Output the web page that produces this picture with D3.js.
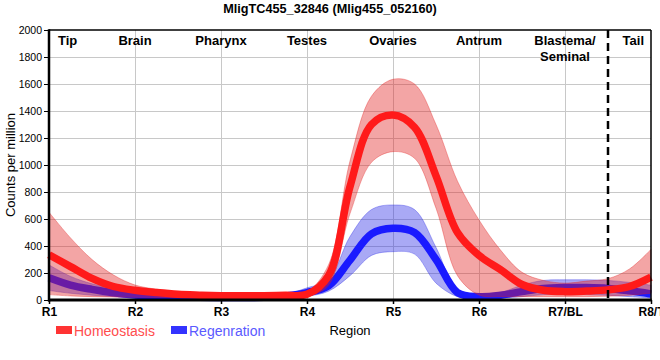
<!DOCTYPE html>
<html>
<head>
<meta charset="utf-8">
<script src="https://cdn.jsdelivr.net/npm/d3@7"></script>
<style>
  html, body { margin: 0; padding: 0; background: #fff; }
  svg { display: block; font-family: "Liberation Sans", Arial, sans-serif; }
</style>
</head>
<body>
<svg id="chart" width="660" height="360"></svg>
<script>
// ---------- data ----------
const title = "MligTC455_32846 (Mlig455_052160)";
const categories = ["R1", "R2", "R3", "R4", "R5", "R6", "R7/BL", "R8/T"];
const regionNames = ["Tip", "Brain", "Pharynx", "Testes", "Ovaries", "Antrum", "Blastema/|Seminal", "Tail"];
const yTicks = [0, 200, 400, 600, 800, 1000, 1200, 1400, 1600, 1800, 2000];
// sample positions along the region axis (1 = R1 ... 8 = R8/T)
const positions = [1, 1.25, 1.5, 1.75, 2, 2.25, 2.5, 2.75, 3, 3.25, 3.5, 3.75, 4, 4.25, 4.5, 4.75,
                   5, 5.25, 5.5, 5.75, 6, 6.25, 6.5, 6.75, 7, 7.25, 7.5, 7.75, 8];
const homeoMean = [335, 247, 160, 100, 72, 55, 42, 36, 32, 31, 32, 35, 42, 180, 840, 1300,
                   1370, 1280, 920, 500, 330, 225, 115, 72, 62, 66, 75, 100, 170];
const homeoHi   = [650, 460, 300, 185, 111, 80, 62, 52, 46, 45, 46, 50, 62, 260, 1030, 1510,
                   1635, 1600, 1300, 880, 593, 370, 205, 145, 125, 140, 158, 230, 375];
const homeoLo   = [40, 30, 25, 22, 20, 19, 18, 18, 18, 18, 18, 19, 25, 110, 640, 1020,
                   1099, 1050, 680, 180, 37, 25, 25, 25, 25, 25, 28, 35, 50];
const regenMean = [165, 111, 79, 54, 37, 28, 22, 20, 18, 18, 20, 30, 55, 105, 296, 490,
                   531, 500, 300, 55, 25, 35, 62, 85, 92, 92, 86, 68, 45];
const regenHi   = [260, 175, 120, 85, 60, 45, 35, 30, 30, 30, 32, 42, 90, 150, 470, 670,
                   704, 670, 390, 70, 35, 55, 110, 145, 150, 150, 145, 130, 110];
const regenLo   = [70, 50, 35, 25, 15, 12, 10, 8, 8, 8, 9, 15, 28, 65, 180, 330,
                   358, 340, 125, 25, 12, 15, 25, 40, 45, 40, 35, 25, 15];
const dividerPos = 7.5;
const seriesNames = ["Homeostasis", "Regenration"];

// ---------- layout ----------
const svg = d3.select("#chart");
const L = 49, R = 651, T = 30, B = 300;
const x = d3.scaleLinear().domain([1, 8]).range([L, R]);
const y = d3.scaleLinear().domain([0, 2000]).range([B, T]);

// grid
const grid = svg.append("g").attr("stroke", "#c8c8c8").attr("stroke-width", 1);
yTicks.filter(v => v > 0 && v < 2000).forEach(v => {
  grid.append("line").attr("x1", L).attr("x2", R).attr("y1", y(v) + 0.5).attr("y2", y(v) + 0.5);
});
categories.forEach((c, i) => {
  if (i > 0 && i < categories.length - 1)
    grid.append("line").attr("x1", x(i + 1) + 0.5).attr("x2", x(i + 1) + 0.5).attr("y1", T).attr("y2", B);
});

const plot = svg.append("g");
function rows(mean, lo, hi) {
  return positions.map((p, i) => ({ p, m: mean[i], lo: lo[i], hi: hi[i] }));
}
const regen = rows(regenMean, regenLo, regenHi);
const homeo = rows(homeoMean, homeoLo, homeoHi);
const curve = d3.curveCatmullRom.alpha(0.5);
const area = d3.area().x(d => x(d.p)).y0(d => y(d.lo)).y1(d => y(d.hi)).curve(curve);
const line = d3.line().x(d => x(d.p)).y(d => y(d.m)).curve(curve);

// regeneration band + line
plot.append("path").datum(regen).attr("d", area)
  .attr("fill", "rgba(40,40,230,0.4)").attr("stroke", "rgba(40,40,230,0.35)").attr("stroke-width", 1);
plot.append("path").datum(regen).attr("d", line)
  .attr("fill", "none").attr("stroke", "#1a1aff").attr("stroke-width", 7.5).attr("stroke-linejoin", "round");
// homeostasis band + line
plot.append("path").datum(homeo).attr("d", area)
  .attr("fill", "rgba(225,30,30,0.4)").attr("stroke", "rgba(225,30,30,0.35)").attr("stroke-width", 1);
plot.append("path").datum(homeo).attr("d", line)
  .attr("fill", "none").attr("stroke", "#ff1a1a").attr("stroke-width", 7.5).attr("stroke-linejoin", "round");

// divider
svg.append("line").attr("x1", x(dividerPos)).attr("x2", x(dividerPos)).attr("y1", T).attr("y2", B)
  .attr("stroke", "#000").attr("stroke-width", 2.5).attr("stroke-dasharray", "8,5");

// frame
svg.append("line").attr("x1", L).attr("x2", R).attr("y1", T).attr("y2", T).attr("stroke", "#000").attr("stroke-width", 1.5);
svg.append("line").attr("x1", R).attr("x2", R).attr("y1", T).attr("y2", B).attr("stroke", "#000").attr("stroke-width", 1.5);

// axes
const yAxis = svg.append("g").attr("transform", `translate(${L},0)`)
  .call(d3.axisLeft(y).tickValues(yTicks).tickSize(5).tickPadding(2).tickFormat(d3.format("d")));
yAxis.select(".domain").remove();
yAxis.selectAll("text").attr("font-size", 10.5).attr("fill", "#000").attr("font-family", "'Liberation Sans', Arial, sans-serif");
yAxis.selectAll("line").attr("stroke", "#000");

const xAxis = svg.append("g").attr("transform", `translate(0,${B})`)
  .call(d3.axisBottom(x).tickValues(d3.range(1, categories.length + 1)).tickSize(4).tickPadding(3)
    .tickFormat(d => categories[d - 1]));
xAxis.select(".domain").remove();
xAxis.selectAll("text").attr("font-size", 12).attr("font-weight", "bold").attr("fill", "#000")
  .attr("font-family", "'Liberation Sans', Arial, sans-serif");
xAxis.selectAll("line").attr("stroke", "#000").attr("stroke-width", 1.5);

svg.append("line").attr("x1", L).attr("x2", L).attr("y1", T - 0.75).attr("y2", B + 1.5).attr("stroke", "#000").attr("stroke-width", 2.5);
svg.append("line").attr("x1", L - 1).attr("x2", R + 0.75).attr("y1", B).attr("y2", B).attr("stroke", "#000").attr("stroke-width", 3);

// region names
regionNames.forEach((n, i) => {
  const parts = n.split("|");
  let anchor = "middle", px = x(i + 1);
  if (i === 0) { anchor = "start"; px = x(1) + 9; }
  if (i === regionNames.length - 1) { anchor = "end"; px = x(8) - 7; }
  const t = svg.append("text").attr("x", px).attr("y", 45).attr("text-anchor", anchor)
    .attr("font-size", 13).attr("font-weight", "bold").attr("fill", "#000");
  parts.forEach((p, k) => t.append("tspan").attr("x", px).attr("dy", k === 0 ? 0 : 16).text(p));
});

// title
svg.append("text").attr("x", 330).attr("y", 13).attr("text-anchor", "middle")
  .attr("font-size", 12.7).attr("font-weight", "bold").text(title);

// y title
svg.append("text").attr("transform", "translate(15,165) rotate(-90)").attr("text-anchor", "middle")
  .attr("font-size", 13).text("Counts per million");

// x title
svg.append("text").attr("x", 350).attr("y", 335).attr("text-anchor", "middle")
  .attr("font-size", 13).text("Region");

// legend
const legend = [
  { name: seriesNames[0], rect: "#ff3333", text: "#ff4d4d", x: 56 },
  { name: seriesNames[1], rect: "#3333ff", text: "#5a5aff", x: 171 }
];
legend.forEach(l => {
  svg.append("rect").attr("x", l.x).attr("y", 326).attr("width", 16).attr("height", 8).attr("fill", l.rect);
  svg.append("text").attr("x", l.x + 18).attr("y", 336).attr("font-size", 14).attr("fill", l.text).text(l.name);
});
</script>
</body>
</html>
